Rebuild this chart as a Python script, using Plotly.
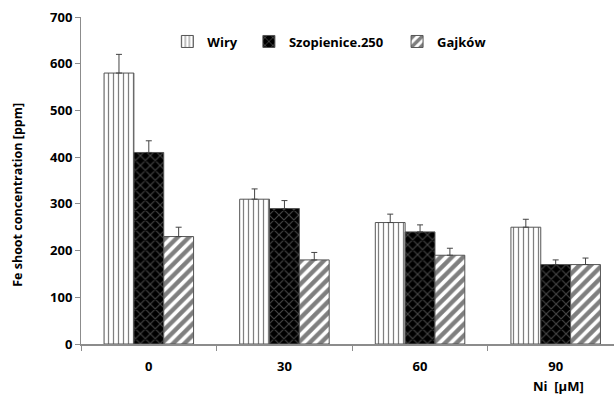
import plotly.graph_objects as go

# Ni treatment levels (µM) and Fe shoot concentration per population
ni_levels = ["0", "30", "60", "90"]
wiry = [580, 310, 260, 250]
wiry_err = [40, 22, 18, 17]
szopienice = [410, 290, 240, 170]
szopienice_err = [25, 17, 15, 10]
gajkow = [230, 180, 190, 170]
gajkow_err = [20, 16, 15, 14]
y_ticks = [0, 100, 200, 300, 400, 500, 600, 700]

FONT = "Open Sans"
x_pos = list(range(len(ni_levels)))

series = [
    ("Wiry", wiry, wiry_err, dict(shape="|", fgcolor="black", bgcolor="white", size=5, solidity=0.25), "legend"),
    ("Szopienice.250", szopienice, szopienice_err, dict(shape="x", fgcolor="#8a8a8a", bgcolor="black", size=7, solidity=0.3), "legend2"),
    ("Gajków", gajkow, gajkow_err, dict(shape="/", fgcolor="black", bgcolor="white", size=8, solidity=0.55), "legend3"),
]

fig = go.Figure()
for name, vals, err, pat, leg in series:
    fig.add_trace(go.Bar(
        x=x_pos, y=vals, name=name, legend=leg, showlegend=True,
        marker=dict(color="white", pattern=pat, line=dict(color="#555555", width=1)),
        error_y=dict(type="data", symmetric=False, array=err, arrayminus=[0] * len(err),
                     color="#444444", thickness=1, width=3),
    ))

bold13 = dict(family=FONT, size=13, color="black", weight="bold")
leg_style = dict(orientation="h", yanchor="middle", xanchor="left", bgcolor="rgba(0,0,0,0)",
                 font=bold13, itemwidth=30, tracegroupgap=0, visible=True)
fig.update_layout(
    width=614, height=394,
    margin=dict(l=81, r=0, t=17, b=50),
    plot_bgcolor="white", paper_bgcolor="white",
    barmode="group", bargap=0.34, bargroupgap=0,
    showlegend=True,
    font=dict(family=FONT, size=13, color="black"),
    legend=dict(x=0.162, y=0.925, **leg_style),
    legend2=dict(x=0.315, y=0.925, **leg_style),
    legend3=dict(x=0.593, y=0.925, **leg_style),
    xaxis=dict(
        range=[-0.5, 3.43], tickvals=x_pos, ticktext=ni_levels,
        ticks="outside", ticklen=9, tickcolor="rgba(0,0,0,0)",
        tickfont=bold13,
        showline=True, linecolor="#8c8c8c", linewidth=2, showgrid=False, zeroline=False,
        minor=dict(tickvals=[-0.5, 0.5, 1.5, 2.5], ticks="outside", ticklen=5, tickcolor="#8c8c8c", showgrid=False),
    ),
    yaxis=dict(
        range=[0, 700], tickvals=y_ticks,
        ticks="outside", ticklen=5, tickcolor="#8c8c8c",
        tickfont=bold13,
        showline=True, linecolor="#8c8c8c", linewidth=1, showgrid=False, zeroline=False,
    ),
)
fig.add_annotation(text="Fe shoot concentration [ppm]", xref="paper", yref="paper",
                   x=-0.119, y=0.455, textangle=-90, xanchor="center", yanchor="middle",
                   showarrow=False, font=dict(family=FONT, size=12.5, color="black", weight="bold"))
fig.add_annotation(text="Ni  [µM]", xref="paper", yref="paper", x=0.895, y=-0.127,
                   xanchor="center", yanchor="middle", showarrow=False, font=bold13)

fig.write_html("out.html")
